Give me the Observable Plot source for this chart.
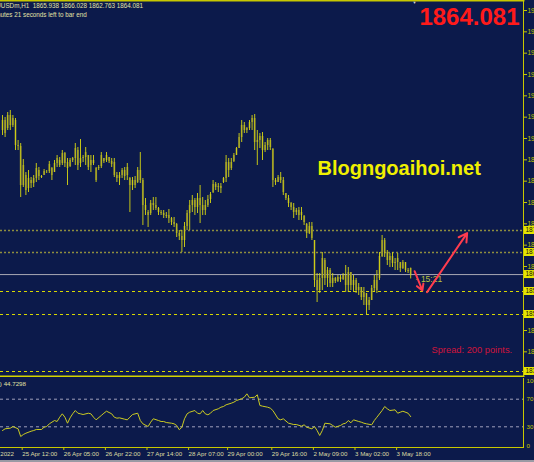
<!DOCTYPE html>
<html><head><meta charset="utf-8">
<script src="https://cdn.jsdelivr.net/npm/d3@7"></script>
<script src="https://cdn.jsdelivr.net/npm/@observablehq/plot@0.6"></script>
<style>
html,body{margin:0;padding:0;background:#0c1a4b;width:534px;height:462px;overflow:hidden}
#chart svg{display:block}
#strip{height:2px;background:#9a9aa4}
</style></head><body><div id="chart"></div><div id="strip"></div>
<script>
// ---------- data ----------
const symbol = "XAUUSDm,H1";
const lastOHLC = [1865.938, 1866.028, 1862.763, 1864.081];
const currentPrice = 1864.081;
const countdownMin = 15, countdownSec = 21;
const spreadPoints = 200;
const rsiPeriod = 14, rsiLast = 44.7298;

const open = [1907.3,1910.3,1907.9,1911.8,1908.8,1910.3,1902.8,1902.5,1890.8,1893.8,1889.9,1892.3,1891.4,1892.9,1895.3,1893.5,1893.8,1895.0,1895.0,1895.9,1894.7,1897.4,1898.3,1897.4,1900.4,1897.7,1896.5,1898.3,1898.9,1901.3,1897.4,1898.9,1899.2,1899.8,1896.8,1898.3,1895.9,1895.9,1896.5,1898.9,1898.3,1899.2,1898.0,1897.7,1893.8,1892.9,1893.8,1895.3,1893.8,1892.9,1890.8,1892.3,1891.7,1895.3,1892.3,1884.8,1882.7,1882.4,1885.4,1884.8,1883.9,1882.7,1882.4,1881.8,1881.8,1880.9,1879.7,1879.1,1876.4,1875.5,1874.3,1878.5,1882.4,1884.8,1886.3,1884.2,1886.9,1884.8,1883.3,1884.8,1886.6,1888.7,1891.1,1890.2,1890.5,1891.7,1892.9,1897.7,1895.9,1898.0,1899.8,1901.9,1905.2,1908.8,1907.3,1907.9,1909.7,1910.9,1903.7,1904.3,1905.5,1901.3,1902.8,1904.3,1901.6,1892.3,1891.7,1893.2,1892.3,1888.4,1886.9,1885.4,1884.2,1882.7,1883.3,1881.8,1881.5,1879.1,1876.4,1878.5,1874.3,1862.3,1859.3,1862.9,1868.3,1862.9,1865.3,1861.4,1862.9,1862.0,1863.2,1862.6,1863.8,1860.8,1864.7,1860.8,1862.3,1859.3,1860.2,1857.2,1858.4,1854.8,1856.3,1859.9,1862.3,1862.9,1869.5,1874.3,1870.7,1868.3,1869.5,1867.4,1867.7,1867.7,1865.9,1867.7,1865.3,1865.938];
const high = [1911.8,1911.2,1912.7,1913.3,1911.8,1910.9,1904.3,1903.4,1898.6,1894.7,1895.3,1893.2,1893.8,1897.4,1896.2,1893.8,1895.6,1895.3,1898.0,1896.2,1898.3,1899.8,1899.2,1901.3,1900.7,1898.9,1898.9,1899.2,1903.4,1902.2,1904.6,1899.8,1902.2,1899.8,1899.8,1899.8,1896.2,1896.8,1900.7,1898.9,1900.7,1899.2,1898.9,1898.9,1894.7,1894.7,1895.9,1896.2,1897.4,1893.2,1893.2,1893.5,1896.2,1900.7,1892.9,1886.9,1883.3,1886.3,1887.2,1887.2,1884.2,1883.3,1883.3,1882.7,1883.6,1881.2,1881.2,1879.4,1877.3,1877.3,1879.7,1883.3,1886.3,1887.8,1886.9,1888.4,1890.8,1887.2,1886.3,1887.8,1888.7,1892.3,1891.7,1891.4,1891.4,1893.2,1899.8,1898.9,1898.9,1900.4,1902.2,1906.4,1910.3,1909.7,1908.2,1910.3,1911.8,1912.1,1907.3,1906.4,1906.7,1903.7,1904.9,1904.9,1901.9,1892.9,1893.8,1894.7,1893.2,1888.4,1887.8,1885.7,1885.4,1883.9,1884.2,1884.2,1881.8,1879.4,1879.7,1879.7,1874.3,1864.4,1864.4,1870.7,1868.9,1866.2,1865.9,1864.4,1863.2,1863.8,1863.8,1864.4,1866.8,1866.2,1864.7,1863.8,1862.9,1861.4,1860.2,1860.2,1858.4,1857.2,1860.8,1863.8,1865.3,1870.7,1875.8,1874.9,1871.3,1870.4,1870.7,1868.9,1870.4,1867.7,1868.3,1867.7,1865.9,1866.028];
const low = [1905.8,1905.2,1907.3,1907.3,1908.2,1901.3,1901.3,1887.2,1890.2,1887.8,1888.7,1889.9,1890.2,1891.7,1892.3,1892.9,1893.8,1894.4,1894.4,1892.3,1894.7,1896.2,1896.2,1896.8,1896.2,1890.8,1896.2,1897.7,1896.8,1895.3,1896.2,1897.7,1896.8,1895.3,1894.7,1896.8,1891.7,1895.3,1895.9,1897.4,1897.7,1897.4,1896.2,1893.2,1891.7,1890.8,1892.9,1892.3,1892.3,1882.7,1889.3,1889.9,1891.4,1891.4,1878.8,1881.8,1878.2,1881.8,1883.3,1883.3,1881.8,1881.8,1880.9,1880.9,1879.4,1878.8,1878.2,1875.2,1874.3,1870.7,1872.2,1877.3,1877.3,1882.7,1881.8,1882.4,1879.4,1881.8,1881.8,1884.2,1885.4,1888.4,1889.3,1888.7,1888.4,1891.4,1891.7,1893.2,1895.3,1897.7,1899.8,1901.9,1903.7,1906.4,1906.4,1907.3,1907.3,1901.3,1896.8,1901.9,1898.3,1900.7,1901.3,1901.3,1890.2,1890.8,1891.7,1891.4,1887.8,1886.3,1884.2,1883.3,1880.9,1881.8,1880.3,1880.3,1878.8,1874.9,1876.1,1874.3,1860.2,1855.7,1858.4,1859.3,1860.8,1860.2,1860.2,1860.2,1861.4,1861.7,1861.7,1862.3,1858.7,1858.7,1859.3,1858.7,1858.4,1857.8,1856.3,1854.8,1851.8,1853.3,1856.3,1858.7,1858.4,1862.3,1869.2,1869.2,1866.8,1866.2,1866.2,1865.3,1865.3,1864.7,1865.6,1864.7,1864.4,1862.763];
const close = [1910.3,1906.4,1911.8,1908.8,1910.9,1902.8,1902.5,1890.8,1896.8,1889.3,1892.9,1891.4,1892.9,1895.9,1893.5,1893.2,1895.0,1895.0,1897.1,1893.8,1897.4,1898.9,1896.8,1900.4,1897.4,1895.9,1898.3,1898.9,1901.9,1896.8,1898.9,1899.2,1900.7,1896.2,1898.3,1897.4,1892.3,1896.2,1899.8,1898.0,1899.8,1898.0,1897.1,1893.8,1892.9,1893.8,1895.3,1893.5,1896.2,1890.8,1892.3,1890.8,1895.3,1892.3,1884.8,1883.3,1881.8,1885.4,1884.8,1883.9,1882.7,1882.4,1881.8,1881.5,1880.9,1879.7,1879.1,1876.4,1875.5,1874.3,1878.5,1882.4,1884.8,1886.3,1884.2,1886.9,1884.8,1883.3,1884.8,1886.6,1888.1,1891.1,1890.2,1890.5,1889.9,1892.9,1897.7,1895.3,1897.7,1899.8,1901.9,1905.2,1908.8,1907.3,1907.9,1909.7,1910.9,1903.7,1904.3,1905.5,1901.3,1902.8,1904.3,1902.2,1892.3,1891.7,1893.2,1892.3,1888.7,1886.9,1885.4,1884.2,1882.7,1883.3,1881.8,1882.7,1879.7,1876.4,1878.5,1874.9,1862.3,1859.3,1862.9,1868.9,1862.9,1865.3,1861.4,1862.9,1862.0,1863.2,1862.6,1863.8,1860.8,1864.7,1860.8,1862.3,1859.3,1860.2,1857.2,1858.7,1854.8,1856.3,1859.9,1862.3,1859.3,1869.5,1874.3,1870.7,1868.3,1869.5,1867.4,1867.7,1868.9,1865.9,1867.7,1865.3,1865.0,1864.081];

const priceTicks = [1943.3,1936.9,1930.5,1924.1,1917.7,1911.3,1904.9,1898.5,1892.1,1885.7,1879.3,1872.9,1866.5,1847.3,1840.9];
const dottedLevels = [1877.3, 1870.7];
const dashedLevels = [1859.0, 1852.1, 1835.0];

const rsiBar = [0,1,3,4,6,7,8,9,11,12,13,15,16,17,18,20,21,22,23,24,25,26,27,28,29,30,31,33,34,35,36,38,39,40,42,43,44,45,47,48,49,50,52,53,54,56,57,58,60,61,62,63,65,66,67,68,69,70,71,72,74,75,76,77,78,79,80,81,83,84,85,86,88,89,90,92,93,94,95,97,98,99,100,102,103,104,106,107,108,110,111,112,113,115,116,117,119,120,121,122,123,124,126,127,128,130,131,132,133,134,135,137,138,139,140,142,143,144,146,147,148,149,151,152,153,154,156,157];
const rsiValue = [24.6,27.1,28.0,30.4,27.1,15.9,18.8,20.7,23.6,24.6,26.1,26.1,29.4,30.4,34.3,39.1,37.7,43.9,48.8,43.9,35.2,43.0,48.8,53.6,49.7,48.8,47.8,49.7,48.8,43.9,40.1,46.4,49.7,52.6,48.8,43.9,42.5,43.0,41.0,40.1,43.9,47.8,49.7,39.1,34.3,30.4,36.7,41.6,39.1,37.7,37.7,36.2,35.2,34.3,31.9,25.7,29.4,41.6,48.8,51.2,53.6,49.7,48.8,53.6,48.8,47.4,49.7,53.6,56.1,58.4,59.4,61.9,64.2,65.7,68.1,70.6,72.9,77.8,72.0,72.9,76.4,60.9,59.9,58.4,57.0,53.6,41.6,40.1,41.6,35.2,34.3,33.3,33.3,30.9,32.9,29.4,27.1,30.4,24.6,17.4,24.6,35.2,34.3,31.9,29.4,31.9,34.3,35.2,39.1,35.8,40.1,37.7,36.7,35.2,34.3,32.9,39.1,43.9,53.6,59.4,56.1,53.6,54.6,49.7,51.2,52.6,49.7,44.7298];
const rsiLevels = [70, 30];

const timeTickBar = [-9, 7, 23, 39, 55, 71, 86, 103, 119, 135, 151];
const timeTickLabel = ["22 Apr 2022","25 Apr 12:00","26 Apr 05:00","26 Apr 22:00","27 Apr 14:00","28 Apr 07:00","29 Apr 00:00","29 Apr 16:00","2 May 09:00","3 May 02:00","3 May 18:00"];

const arrowFromBar = [158.5, 163.3];
const arrowFromPrice = [1865.1, 1858.8];
const arrowToBar = [161.5, 178.7];
const arrowToPrice = [1859.3, 1876.5];

// ---------- build ----------
const bars = open.map((o, i) => ({i, o, h: high[i], l: low[i], c: close[i]}));
const rsi = rsiBar.map((b, k) => ({i: b, v: rsiValue[k]}));
const arrows = arrowFromBar.map((b, k) => ({x1: b, y1: arrowFromPrice[k], x2: arrowToBar[k], y2: arrowToPrice[k]}));
const lastBar = bars[bars.length - 1];

const FONT = "Liberation Sans, Arial, sans-serif";
const AX = "#c8c800";
const pxPerBar = 2.6, firstBarPx = 2, plotRight = 523;
const xDomain = [-firstBarPx / pxPerBar, (plotRight - firstBarPx) / pxPerBar];

const main = Plot.plot({
  width: 534, height: 377,
  marginLeft: 0, marginRight: 11, marginTop: 0, marginBottom: 1,
  style: {background: "transparent", overflow: "hidden"},
  x: {type: "linear", domain: xDomain, axis: null},
  y: {domain: [1833.5, 1946.3]},
  marks: [
    Plot.ruleY(dottedLevels, {stroke: "#8e8e3e", strokeWidth: 1.5, strokeDasharray: "2,2"}),
    Plot.ruleY(dashedLevels, {stroke: "#d8d800", strokeWidth: 1, strokeDasharray: "3,3"}),
    Plot.ruleY([currentPrice], {stroke: "#a8a8b4", strokeWidth: 1}),
    Plot.ruleX(bars, {x: "i", y1: "o", y2: "c", stroke: "#64643e", strokeWidth: 2}),
    Plot.ruleX(bars, {x: "i", y1: "l", y2: "h", stroke: "#d8d812", strokeWidth: 0.9}),
    Plot.axisY({anchor: "right", ticks: priceTicks, tickSize: 3, tickPadding: 1, tickFormat: d => d.toFixed(2),
      fontSize: 6.5, fontFamily: FONT, color: AX, label: null}),
    Plot.frame({anchor: "top", stroke: AX, strokeWidth: 2}),
    Plot.frame({anchor: "right", stroke: AX}),
    Plot.frame({anchor: "bottom", stroke: "#d4d400", strokeWidth: 2}),
    Plot.text([`${symbol}\u00a0\u00a0${lastOHLC.map(d => d.toFixed(3)).join(" ")}`], {frameAnchor: "top-left", dx: -12.6, dy: 3.5,
      lineAnchor: "top", textAnchor: "start", fontSize: 6.3, fontFamily: FONT, fill: "#e2e2a6"}),
    Plot.text([`${countdownMin} minutes ${countdownSec} seconds left to bar end`], {frameAnchor: "top-left", dx: -18.8, dy: 12.5,
      lineAnchor: "top", textAnchor: "start", fontSize: 6.3, fontFamily: FONT, fill: "#e2e2a6"}),
    Plot.text(["\u25BC"], {frameAnchor: "top-left", dx: 412, dy: 1, lineAnchor: "top", fontSize: 4, fill: "#d8d8d8"}),
    Plot.text([currentPrice.toFixed(3)], {frameAnchor: "top-right", dx: -4, dy: 7, lineAnchor: "top", textAnchor: "end",
      fontSize: 24, fontWeight: "bold", fontFamily: FONT, fill: "#ff1a1a"}),
    Plot.text(["Blogngoaihoi.net"], {frameAnchor: "top-left", dx: 317, dy: 160, lineAnchor: "top", textAnchor: "start",
      fontSize: 20, fontWeight: "bold", fontFamily: FONT, fill: "#f0f000"}),
    Plot.text([`Spread: ${spreadPoints} points.`], {frameAnchor: "top-left", dx: 431, dy: 346, lineAnchor: "top", textAnchor: "start",
      fontSize: 9.3, fontFamily: FONT, fill: "#d0143c"}),
    Plot.text([lastBar], {x: "i", y: "c", text: () => `- ${countdownMin}:${countdownSec}`, dx: 5, dy: 5, textAnchor: "start",
      fontSize: 8.5, fontFamily: FONT, fill: "#b8c23e"}),
    Plot.arrow(arrows, {x1: "x1", y1: "y1", x2: "x2", y2: "y2", stroke: "#ff3c4e", strokeWidth: 2, headLength: 7})
  ]
});

// level price boxes on the right axis
{
  const ys = main.scale("y");
  const svg = d3.select(main);
  for (const v of [...dottedLevels, currentPrice, ...dashedLevels]) {
    const y = ys.apply(v);
    svg.append("rect").attr("x", 524).attr("y", y - 4).attr("width", 12).attr("height", 8).attr("fill", "#e6e600");
    svg.append("text").attr("x", 525.5).attr("y", y + 2.4).attr("text-anchor", "start").text(v.toFixed(2))
      .attr("font-size", 6.5).attr("font-family", FONT).attr("fill", "#101010");
  }
}

const rsiPlot = Plot.plot({
  width: 534, height: 83,
  marginLeft: 0, marginRight: 11, marginTop: 1, marginBottom: 13,
  style: {background: "transparent", overflow: "hidden"},
  x: {type: "linear", domain: xDomain, label: null},
  y: {domain: [0, 100], axis: null},
  marks: [
    Plot.ruleY(rsiLevels, {stroke: "#a0a0bc", strokeWidth: 1, strokeDasharray: "3,3"}),
    Plot.line(rsi, {x: "i", y: "v", stroke: "#cccc22", strokeWidth: 1}),
    Plot.frame({anchor: "right", stroke: AX}),
    Plot.frame({anchor: "bottom", stroke: AX}),
    Plot.axisX({ticks: timeTickBar, tickSize: 3, tickPadding: 1, textAnchor: "start", dx: 1.5,
      tickFormat: d => timeTickLabel[timeTickBar.indexOf(d)], fontSize: 6.2, fontFamily: FONT, color: AX, fill: "#dcdca4", label: null}),
    Plot.text([100], {y: d => d, text: d => String(d), frameAnchor: "right", dx: 3, textAnchor: "start", lineAnchor: "top",
      fontSize: 6.2, fontFamily: FONT, fill: AX}),
    Plot.text(rsiLevels, {y: d => d, text: d => String(d), frameAnchor: "right", dx: 3, textAnchor: "start", lineAnchor: "middle",
      fontSize: 6.2, fontFamily: FONT, fill: AX}),
    Plot.text([0], {y: d => d, text: d => String(d), frameAnchor: "right", dx: 3, textAnchor: "start", lineAnchor: "bottom",
      fontSize: 6.2, fontFamily: FONT, fill: AX}),
    Plot.text([`RSI(${rsiPeriod}) ${rsiLast.toFixed(4)}`], {frameAnchor: "top-left", dx: 25.5, dy: 3,
      lineAnchor: "top", textAnchor: "end", fontSize: 6.2, fontFamily: FONT, fill: "#e0e0a4"})
  ]
});

document.getElementById("chart").append(main, rsiPlot);
</script>
</body></html>
